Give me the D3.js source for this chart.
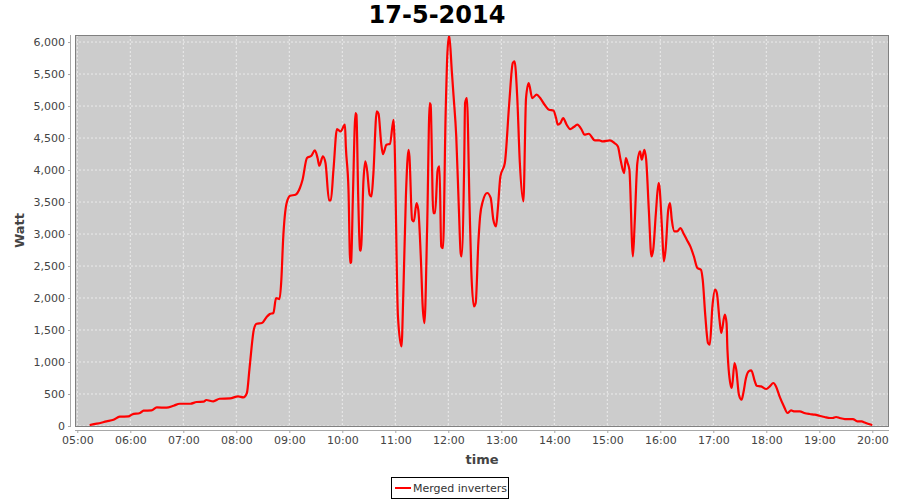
<!DOCTYPE html>
<html><head><meta charset="utf-8">
<script src="https://cdn.jsdelivr.net/npm/d3@7"></script>
<style>body{margin:0;background:#fff}svg{display:block}</style>
</head><body>
<svg id="chart" width="900" height="500"></svg>
<script>
const chartTitle = "17-5-2014";
const seriesName = "Merged inverters";
const xAxisLabel = "time";
const yAxisLabel = "Watt";

const times = ["05:14","05:22","05:33","05:41","05:48","05:58","06:02","06:11","06:15","06:24","06:30","06:41","06:49","06:56","07:08","07:15","07:23","07:26","07:34","07:41","07:53","08:02","08:08","08:12","08:15","08:20","08:23","08:29","08:34","08:38","08:42","08:45","08:49","08:51","08:53","08:57","09:01","09:07","09:12","09:15","09:20","09:25","09:29","09:32","09:34","09:38","09:41","09:45","09:47","09:50","09:54","09:58","10:03","10:04","10:07","10:09","10:10","10:12","10:15","10:16","10:18","10:20","10:21","10:24","10:26","10:28","10:31","10:33","10:35","10:39","10:41","10:44","10:46","10:50","10:54","10:58","10:59","11:03","11:07","11:09","11:12","11:15","11:16","11:19","11:21","11:24","11:26","11:29","11:31","11:33","11:36","11:39","11:40","11:43","11:45","11:48","11:50","11:52","11:54","11:57","11:59","12:01","12:04","12:06","12:09","12:12","12:14","12:15","12:18","12:19","12:21","12:24","12:26","12:29","12:31","12:34","12:36","12:39","12:44","12:48","12:51","12:54","12:56","12:59","13:04","13:09","13:13","13:15","13:18","13:21","13:25","13:28","13:31","13:35","13:40","13:44","13:49","13:54","13:59","14:02","14:04","14:07","14:10","14:14","14:18","14:22","14:26","14:31","14:34","14:39","14:46","14:51","14:55","15:03","15:08","15:12","15:15","15:19","15:21","15:23","15:25","15:29","15:31","15:34","15:37","15:39","15:42","15:44","15:47","15:50","15:52","15:55","15:58","15:59","16:02","16:04","16:06","16:09","16:11","16:13","16:16","16:19","16:23","16:26","16:30","16:34","16:38","16:42","16:46","16:48","16:51","16:54","16:56","16:59","17:02","17:04","17:07","17:09","17:13","17:15","17:16","17:20","17:21","17:24","17:26","17:29","17:32","17:34","17:37","17:40","17:43","17:47","17:49","17:54","18:00","18:04","18:08","18:11","18:15","18:20","18:24","18:28","18:32","18:38","18:43","18:49","18:55","19:00","19:06","19:12","19:15","19:19","19:23","19:29","19:34","19:38","19:43","19:48","19:51","19:55","20:00"];

const watts = [15,36,72,98,145,150,181,203,239,244,291,286,317,348,348,375,380,406,385,426,432,463,447,516,906,1516,1598,1609,1697,1750,1766,2000,1984,2286,2911,3484,3598,3614,3719,3848,4187,4223,4306,4187,4067,4214,4109,3525,3525,4005,4640,4603,4708,4369,3692,2547,2562,3588,4891,4864,3588,2755,2740,3848,4134,4005,3614,3588,3900,4916,4880,4422,4250,4395,4411,4786,4525,1713,1244,2025,3588,4317,4214,3223,3197,3484,3380,2598,1869,1609,3067,5047,5020,3328,3328,4005,4056,2806,2780,4891,5828,6110,5541,5150,4525,3380,2703,2650,4109,5047,5125,3484,2442,1869,1922,2859,3275,3509,3641,3563,3223,3119,3380,3900,4109,5047,5672,5697,5150,4109,3509,5125,5359,5125,5177,5125,5020,4942,4931,4812,4708,4734,4812,4708,4640,4672,4708,4630,4552,4567,4463,4463,4447,4463,4422,4369,4161,3953,4187,4109,4005,2650,3172,4109,4291,4161,4317,4161,3380,2650,2755,3328,3797,3744,3067,2572,2755,3380,3484,3223,3041,3041,3094,3016,2911,2806,2650,2469,2442,2286,1713,1297,1270,1869,2130,2078,1661,1453,1739,1609,1192,619,594,984,880,489,411,516,750,853,869,697,630,619,578,619,672,619,463,306,203,244,228,228,203,187,177,161,141,125,125,141,125,109,109,109,72,72,56,36,16];

const yTickValues = [0,500,1000,1500,2000,2500,3000,3500,4000,4500,5000,5500,6000];
const xTickLabels = ["05:00","06:00","07:00","08:00","09:00","10:00","11:00","12:00","13:00","14:00","15:00","16:00","17:00","18:00","19:00","20:00"];

const day = "2014-05-17";
const parse = d3.timeParse("%Y-%m-%d %H:%M");
const parseS = d3.timeParse("%Y-%m-%d %H:%M:%S");
const data = times.map((t, i) => ({ t: parse(day + " " + t), v: watts[i] }));
const xTicks = xTickLabels.map(s => parse(day + " " + s));

const plot = { left: 75, right: 889, top: 35, bottom: 426 };
const x = d3.scaleTime()
  .domain([parseS(day + " 04:57:24"), parseS(day + " 20:18:54")])
  .range([plot.left, plot.right]);
const y = d3.scaleLinear().domain([0, 6110]).range([plot.bottom, plot.top]);

const svg = d3.select("#chart");
const font = "'DejaVu Sans', sans-serif";

svg.append("rect").attr("width", 900).attr("height", 500).attr("fill", "#fff");

// Title
svg.append("text").attr("x", 437).attr("y", 23).attr("text-anchor", "middle")
  .attr("font-family", font).attr("font-weight", "bold").attr("font-size", 24)
  .attr("fill", "#000").text(chartTitle);

// plot background
svg.append("rect").attr("x", plot.left).attr("y", plot.top)
  .attr("width", plot.right - plot.left).attr("height", plot.bottom - plot.top)
  .attr("fill", "#cccccc");

// gridlines
const grid = svg.append("g").attr("stroke", "#f4f4f4").attr("stroke-width", 0.8).attr("stroke-dasharray", "2,2");
xTicks.forEach(d => {
  grid.append("line").attr("x1", x(d)).attr("x2", x(d)).attr("y1", plot.top).attr("y2", plot.bottom);
});
yTickValues.forEach(d => {
  grid.append("line").attr("x1", plot.left).attr("x2", plot.right).attr("y1", y(d)).attr("y2", y(d));
});

// clip
svg.append("clipPath").attr("id", "clip").append("rect")
  .attr("x", plot.left).attr("y", plot.top).attr("width", plot.right - plot.left).attr("height", plot.bottom - plot.top);

const line = d3.line().x(d => x(d.t)).y(d => y(d.v)).curve(d3.curveMonotoneX);
svg.append("path").datum(data).attr("clip-path", "url(#clip)")
  .attr("d", line).attr("fill", "none").attr("stroke", "#ff0000")
  .attr("stroke-width", 2.2).attr("stroke-linejoin", "round");

// plot border
svg.append("rect").attr("x", plot.left + 0.5).attr("y", plot.top + 0.5)
  .attr("width", plot.right - plot.left - 1).attr("height", plot.bottom - plot.top)
  .attr("fill", "none").attr("stroke", "#808080").attr("stroke-width", 1);

// axes
const yAxis = d3.axisLeft(y).tickValues(yTickValues).tickSize(3).tickSizeOuter(0).tickPadding(3)
  .tickFormat(d3.format(","));
const gy = svg.append("g").attr("transform", "translate(71,0)").call(yAxis);
const xAxis = d3.axisBottom(x).tickValues(xTicks).tickSize(3).tickSizeOuter(0).tickPadding(3)
  .tickFormat(d3.timeFormat("%H:%M"));
const gx = svg.append("g").attr("transform", "translate(0,430)").call(xAxis);
[gx, gy].forEach(g => {
  g.selectAll("path").attr("stroke", "#a8a8a8");
  g.selectAll("line").attr("stroke", "#a8a8a8");
  g.selectAll("text").attr("font-family", font).attr("font-size", 11).attr("fill", "#444");
});
gx.select("path.domain").attr("d", `M${plot.left},0.5H${plot.right}`);
gy.select("path.domain").attr("d", `M-0.5,${plot.top}V${plot.bottom}`);

// axis labels
svg.append("text").attr("x", (plot.left + plot.right) / 2).attr("y", 464).attr("text-anchor", "middle")
  .attr("font-family", font).attr("font-weight", "bold").attr("font-size", 13).attr("fill", "#444")
  .text(xAxisLabel);
svg.append("text").attr("transform", `translate(24,${(plot.top + plot.bottom) / 2}) rotate(-90)`)
  .attr("text-anchor", "middle")
  .attr("font-family", font).attr("font-weight", "bold").attr("font-size", 13).attr("fill", "#444")
  .text(yAxisLabel);

// legend
const lg = svg.append("g");
lg.append("rect").attr("x", 391.5).attr("y", 477.5).attr("width", 117).attr("height", 21)
  .attr("fill", "#fff").attr("stroke", "#000");
lg.append("line").attr("x1", 395).attr("x2", 411).attr("y1", 488).attr("y2", 488)
  .attr("stroke", "#ff0000").attr("stroke-width", 2);
lg.append("text").attr("x", 413).attr("y", 492).attr("font-family", font).attr("font-size", 11)
  .attr("fill", "#333").text(seriesName);
</script>
</body></html>
